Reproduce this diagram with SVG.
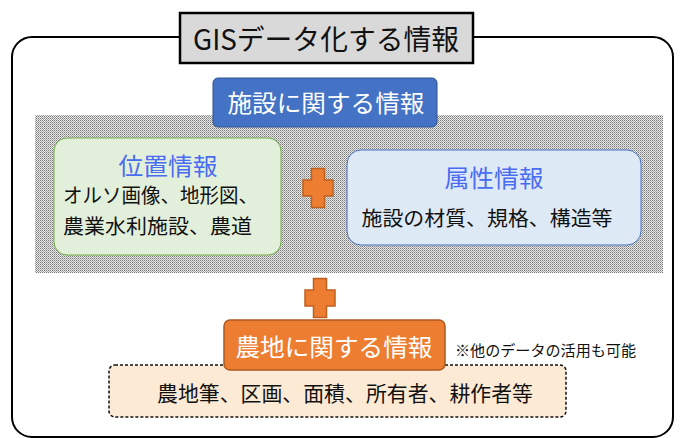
<svg xmlns="http://www.w3.org/2000/svg" width="683" height="438" viewBox="0 0 683 438">
<defs>
<pattern id="dots" width="2" height="2" patternUnits="userSpaceOnUse">
<rect width="2" height="2" fill="#e8e8e8"/>
<rect x="0" y="0" width="1" height="1" fill="#7a7a7a"/>
<rect x="1" y="1" width="1" height="1" fill="#a8a8a8"/>
</pattern>
<path id="plus" d="M-6.5,-19.5 H6.5 V-8 H15 V8 H6.5 V19.5 H-6.5 V8 H-15 V-8 H-6.5 Z"/>
</defs>
<style>
text{font-family:"Noto Sans CJK JP","Noto Sans",sans-serif;dominant-baseline:central}
.w{fill:#ffffff}
.k{fill:#111111}
.b{fill:#4a6cf2}
.plus{fill:#ed7d31;stroke:#c0601f;stroke-width:1.5}
</style>
<g id="outer">
<rect x="12" y="37" width="661" height="400" rx="20" fill="#ffffff" stroke="#000000" stroke-width="2"/>
</g>
<g id="title">
<rect x="180" y="13" width="293" height="50" fill="#d9d9d9" stroke="#000000" stroke-width="2.5"/>
<text x="326" y="38" font-size="28" text-anchor="middle" class="k" textLength="266" lengthAdjust="spacingAndGlyphs">GISデータ化する情報</text>
</g>
<g id="pattern-area">
<rect x="35" y="115" width="628" height="158" fill="url(#dots)"/>
</g>
<g id="facility">
<rect x="213" y="78" width="224" height="49" rx="5" fill="#4472c4" stroke="#2f528f" stroke-width="1"/>
<text x="326" y="101" font-size="24" text-anchor="middle" class="w" textLength="197" lengthAdjust="spacingAndGlyphs">施設に関する情報</text>
</g>
<g id="position">
<rect x="54" y="138" width="227" height="117" rx="13" fill="#e2efda" stroke="#70ad47" stroke-width="1"/>
<text x="168" y="164" font-size="24" text-anchor="middle" class="b" textLength="99" lengthAdjust="spacingAndGlyphs">位置情報</text>
<text x="63" y="194" font-size="20" class="k" textLength="195" lengthAdjust="spacingAndGlyphs">オルソ画像、地形図、</text>
<text x="63" y="225" font-size="20" class="k" textLength="189" lengthAdjust="spacingAndGlyphs">農業水利施設、農道</text>
</g>
<g id="attribute">
<rect x="347" y="150" width="294" height="95" rx="14" fill="#dee9f6" stroke="#4472c4" stroke-width="1"/>
<text x="494" y="176" font-size="24" text-anchor="middle" class="b" textLength="99" lengthAdjust="spacingAndGlyphs">属性情報</text>
<text x="487" y="217" font-size="20" text-anchor="middle" class="k" textLength="251" lengthAdjust="spacingAndGlyphs">施設の材質、規格、構造等</text>
</g>
<g id="plus1">
<use href="#plus" x="318" y="188" class="plus"/>
</g>
<g id="plus2">
<use href="#plus" x="320" y="298" class="plus"/>
</g>
<g id="farmland-detail">
<rect x="109" y="365" width="457" height="52" rx="6" fill="#fdead5" stroke="#111111" stroke-width="1.5" stroke-dasharray="3,2"/>
<text x="345" y="392" font-size="21" text-anchor="middle" class="k" textLength="376" lengthAdjust="spacingAndGlyphs">農地筆、区画、面積、所有者、耕作者等</text>
</g>
<g id="farmland">
<rect x="224" y="320" width="221" height="50" rx="6" fill="#ed7d31" stroke="#ae5a21" stroke-width="1.5"/>
<text x="334" y="345" font-size="24" text-anchor="middle" class="w" textLength="197" lengthAdjust="spacingAndGlyphs">農地に関する情報</text>
</g>
<g id="note">
<text x="455" y="349" font-size="15" class="k" textLength="181" lengthAdjust="spacingAndGlyphs">※他のデータの活用も可能</text>
</g>
<g id="connectors"/>
</svg>
